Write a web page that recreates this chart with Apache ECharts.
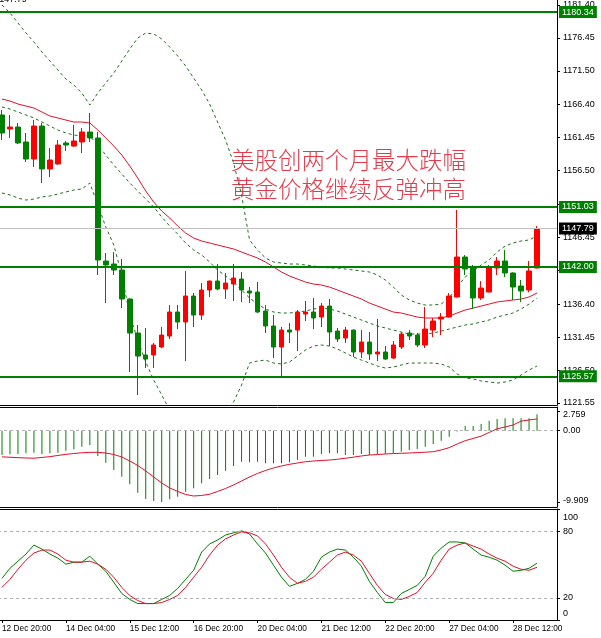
<!DOCTYPE html>
<html><head><meta charset="utf-8">
<script src="https://cdn.jsdelivr.net/npm/echarts@6/dist/echarts.min.js"></script>
<style>html,body{margin:0;padding:0;background:#fff;overflow:hidden;width:601px;height:638px;position:relative}#c{position:absolute;left:-2px;top:-1px;width:603px;height:639px;}</style>
</head><body><div id="c"></div><script>
// ---------- data ----------
const timeLabels = ['12 Dec 20:00','14 Dec 04:00','15 Dec 12:00','16 Dec 20:00','20 Dec 04:00','21 Dec 12:00','22 Dec 20:00','27 Dec 04:00','28 Dec 12:00'];
const barsPerLabel = 8;
const emptySlots = 2;

// [open, close, low, high]
const ohlc = [
[1164.86,1162.15,1161.10,1165.61],[1162.75,1163.05,1161.40,1164.86],[1163.05,1160.65,1160.50,1163.65],[1160.80,1158.24,1157.79,1162.15],
[1158.24,1163.20,1157.04,1164.10],[1163.20,1156.74,1154.63,1163.65],[1156.74,1158.09,1155.53,1159.89],[1157.49,1160.34,1157.40,1161.10],
[1160.65,1160.34,1159.44,1160.95],[1160.19,1160.95,1160.04,1163.35],[1160.80,1162.30,1159.14,1162.90],[1162.30,1161.40,1160.80,1165.16],
[1161.40,1143.05,1140.80,1162.30],[1142.90,1142.30,1136.58,1144.10],[1142.45,1141.55,1140.80,1144.25],[1141.55,1137.19,1135.83,1143.20],
[1137.19,1132.07,1126.21,1137.30],[1132.07,1128.61,1122.75,1133.28],[1128.77,1128.16,1126.81,1132.83],[1128.77,1130.27,1126.81,1130.57],
[1129.97,1131.77,1129.82,1132.98],[1131.62,1135.23,1131.17,1136.28],[1135.23,1133.73,1132.67,1136.28],[1133.73,1137.64,1127.86,1141.40],
[1137.64,1134.78,1132.98,1138.09],[1134.78,1138.54,1134.03,1139.59],[1138.54,1139.89,1137.49,1139.95],[1139.89,1138.69,1138.54,1142.45],
[1138.69,1139.59,1137.19,1141.10],[1139.44,1140.34,1136.89,1142.45],[1140.19,1138.54,1136.74,1141.25],[1138.39,1138.09,1136.58,1138.99],
[1138.24,1135.23,1135.08,1139.74],[1135.38,1133.13,1132.07,1136.28],[1133.13,1129.97,1128.31,1134.78],[1129.97,1132.52,1125.46,1132.98],
[1132.52,1132.22,1130.57,1133.58],[1132.52,1135.23,1129.37,1135.53],[1134.93,1135.23,1133.88,1136.89],[1135.23,1134.33,1132.67,1137.34],
[1134.48,1136.13,1132.98,1136.58],[1136.13,1132.22,1130.12,1137.19],[1132.37,1131.17,1130.72,1132.83],[1131.32,1132.52,1130.57,1132.98],
[1132.52,1129.22,1128.46,1132.60],[1129.22,1130.72,1128.31,1132.52],[1130.72,1128.92,1128.01,1132.22],[1128.92,1129.22,1127.86,1134.18],
[1129.22,1128.16,1128.01,1130.12],[1128.31,1130.27,1128.16,1130.87],[1129.97,1131.92,1129.67,1132.22],[1132.07,1131.62,1131.02,1132.52],
[1131.77,1130.27,1129.97,1132.07],[1130.27,1132.67,1129.82,1135.98],[1132.52,1133.88,1131.47,1134.33],[1134.18,1134.48,1131.77,1135.08],
[1134.48,1137.64,1134.40,1138.09],[1137.49,1143.50,1137.40,1150.57],[1143.50,1141.70,1140.80,1143.80],[1142.00,1137.34,1135.68,1142.30],
[1137.34,1138.84,1137.04,1139.89],[1138.24,1142.00,1138.20,1142.30],[1141.85,1142.90,1140.80,1143.50],[1142.90,1141.10,1140.49,1144.55],
[1141.10,1138.99,1137.04,1141.20],[1139.14,1138.39,1136.74,1140.04],[1138.54,1141.40,1138.20,1142.90],[1141.85,1147.79,1141.80,1148.16]
];

const maRed = [1167.26,1166.96,1166.51,1166.21,1165.91,1165.31,1164.71,1164.41,1164.10,1163.80,
1163.80,1163.65,1162.60,1161.40,1160.19,1158.84,1157.19,1155.38,1153.43,1151.77,
1150.42,1149.37,1148.16,1147.11,1146.36,1145.91,1145.61,1145.31,1145.01,1144.71,
1144.25,1143.80,1143.35,1142.75,1142.00,1141.25,1140.65,1140.19,1139.74,1139.44,
1139.29,1138.99,1138.54,1138.09,1137.64,1137.19,1136.58,1136.13,1135.68,1135.23,
1135.08,1134.78,1134.48,1134.33,1134.33,1134.33,1134.63,1135.08,1135.53,1135.83,
1136.13,1136.43,1136.74,1136.89,1137.04,1137.19,1137.49,1138.09];

const bbUpper = [1181.40,1180.20,1178.69,1177.19,1175.83,1174.33,1172.98,1171.62,1170.27,1169.37,
1168.16,1166.36,1168.16,1169.67,1171.17,1172.98,1174.78,1176.44,1177.19,1177.04,
1176.29,1175.08,1173.73,1172.22,1170.42,1168.62,1166.51,1163.80,1161.10,1157.64,
1152.83,1146.06,1144.55,1143.35,1142.75,1142.60,1142.45,1142.45,1142.30,1142.15,
1142.00,1141.85,1141.85,1141.70,1141.55,1141.40,1141.25,1140.80,1140.04,1138.99,
1137.79,1137.04,1136.58,1136.28,1136.28,1136.43,1137.34,1138.99,1140.49,1141.40,
1142.30,1143.05,1144.25,1145.16,1145.61,1145.91,1146.06,1146.66];

const bbMiddle = [1166.06,1165.76,1165.31,1164.86,1164.41,1163.80,1163.20,1162.60,1162.15,1161.85,
1161.70,1161.70,1160.34,1158.84,1157.34,1155.98,1154.63,1153.43,1152.22,1151.02,
1149.52,1148.16,1146.96,1145.61,1144.55,1143.80,1142.75,1141.55,1140.65,1139.74,
1138.54,1137.34,1136.43,1135.68,1135.23,1135.08,1135.08,1135.23,1135.38,1135.68,
1135.83,1135.68,1135.38,1134.93,1134.48,1134.03,1133.58,1133.13,1132.83,1132.52,
1132.22,1131.92,1131.92,1131.92,1132.07,1132.37,1132.67,1132.98,1133.28,1133.43,
1133.73,1134.03,1134.48,1134.78,1135.08,1135.68,1136.43,1137.34];

const bbLower = [1153.13,1152.83,1152.37,1152.07,1152.22,1152.53,1152.68,1152.98,1153.28,1153.58,
1153.73,1154.63,1151.32,1148.01,1145.31,1140.80,1134.78,1131.02,1127.71,1125.01,
1122.75,1120.49,1118.99,1118.24,1117.79,1117.79,1118.24,1118.99,1120.19,1121.70,
1124.25,1127.56,1127.86,1128.01,1127.56,1127.41,1127.71,1128.61,1129.52,1130.12,
1130.27,1130.12,1129.67,1129.07,1128.46,1128.01,1127.56,1127.11,1126.81,1126.96,
1127.26,1127.56,1127.56,1127.56,1127.56,1127.41,1126.96,1125.91,1125.31,1125.16,
1124.86,1124.71,1124.55,1124.71,1125.01,1125.76,1126.51,1127.11];

const macdHist = [-3.38,-3.28,-3.24,-3.14,-3.06,-3.24,-3.14,-3.06,-2.78,-2.58,
-2.22,-1.99,-3.51,-4.44,-5.46,-6.39,-7.44,-8.61,-9.49,-9.76,
-9.909,-9.53,-9.17,-8.47,-8.00,-7.31,-6.71,-6.15,-5.56,-4.90,
-4.31,-4.39,-4.31,-4.53,-4.53,-4.53,-4.39,-4.07,-3.61,-3.61,
-3.24,-3.14,-3.14,-3.38,-3.38,-3.24,-3.38,-3.24,-3.24,-3.14,
-2.92,-2.68,-2.54,-2.22,-1.85,-1.39,-0.83,-0.10,0.65,0.65,
0.93,1.39,1.63,1.72,1.72,1.72,1.72,2.28];

const macdSignal = [-3.63,-3.69,-3.75,-3.79,-3.82,-3.72,-3.61,-3.44,-3.29,-3.17,
-3.07,-3.01,-3.00,-3.10,-3.31,-3.65,-4.21,-4.83,-5.60,-6.43,
-7.26,-7.96,-8.44,-8.86,-9.07,-9.00,-8.83,-8.44,-8.03,-7.54,
-6.99,-6.43,-5.94,-5.53,-5.18,-4.90,-4.67,-4.49,-4.32,-4.21,
-4.14,-4.08,-3.97,-3.83,-3.68,-3.51,-3.38,-3.31,-3.24,-3.18,
-3.14,-3.10,-3.04,-2.99,-2.92,-2.68,-2.36,-1.85,-1.39,-1.08,
-0.76,-0.25,0.26,0.51,0.79,1.32,1.49,1.63];

const stochK = [37.5,46.6,53,59.4,67.5,63.9,59.4,55.7,50.3,52.1,
52.1,57.5,50.3,43.9,33.9,23.9,18.5,14.8,14.8,14.8,
18.5,22.1,28.5,36.6,44.8,61.2,68.5,72.1,76.6,78.5,
80.3,77.5,68.5,60.3,49.4,38.5,30.3,33,36.6,43.9,
56.6,61.2,63.9,63,56.6,48.5,34.8,24.8,15.7,15.7,
23.9,27.5,31.2,39.4,57.5,64.8,70.3,70.3,69.4,63.9,
58.5,56.6,53.9,49.4,43.9,44.8,46.6,51.2];

const stochD = [29.4,36.6,45.7,53.9,60.3,63,63,59.4,53.9,52.1,
52.1,53,50.3,45.7,38.5,29.4,22.1,17.5,14.8,14.8,
15.7,18.5,22.1,29.4,38.5,47.5,58.5,67.5,73,76.6,
79.4,78.5,75.7,68.5,58.5,47.5,38.5,33,34.8,38.5,
45.7,52.1,58.5,61.2,58.5,53,42.1,31.2,23,19.4,
18.5,21.2,24.8,33.9,42.1,53.9,63.9,67.5,69.4,66.6,
63.9,59.4,55.7,53,48.5,45.7,44.8,47.5];

const levelLines = [1180.34, 1151.03, 1142.00, 1125.57];
const lastPrice = 1147.79;
const priceTicks = [1121.55,1126.50,1131.45,1136.40,1141.50,1146.45,1151.45,1156.50,1161.45,1166.40,1171.50,1176.45,1181.40];
const macdTicks = [-9.909, 0, 2.759];
const stochTicks = [0, 20, 80, 100];
const stochLevels = [20, 80];
const headline = ['美股创两个月最大跌幅', '黄金价格继续反弹冲高'];

// ---------- chart ----------
const cats = Array.from({length: ohlc.length + emptySlots}, (_, i) => String(i));
const FONT = 'Liberation Sans, Arial, sans-serif';
const GREEN = '#008000';
const chart = echarts.init(document.getElementById('c'), null, {renderer: 'canvas'});

function xAx(gi, showLabels, pos) {
  return {
    type: 'category', gridIndex: gi, data: cats, boundaryGap: true, position: pos || 'bottom',
    axisLine: {show: true, onZero: false, lineStyle: {color: '#000', width: 1}},
    axisTick: {show: showLabels, alignWithLabel: true, length: 3,
      interval: (i) => i % barsPerLabel === 0, lineStyle: {color: '#000'}},
    axisLabel: {show: showLabels, interval: 0, align: 'left', margin: 5,
      fontFamily: FONT, fontSize: 8.3, color: '#000',
      formatter: (v, i) => (i % barsPerLabel === 0 && timeLabels[i / barsPerLabel]) ? timeLabels[i / barsPerLabel] : ''},
    splitLine: {show: false}
  };
}
function yAx(gi, min, max, ticks, fmt, rich) {
  return {
    type: 'value', gridIndex: gi, position: 'right', min, max, scale: true,
    axisLine: {show: true, onZero: false, lineStyle: {color: '#000', width: 1}}, splitLine: {show: false},
    axisTick: {show: true, length: 3, customValues: ticks, lineStyle: {color: '#000'}},
    axisLabel: {customValues: ticks, formatter: fmt, margin: 6, fontFamily: FONT, fontSize: 9, color: '#000', rich: rich}
  };
}
const lbl = (pad) => ({padding: pad, fontSize: 9, fontFamily: FONT, color: '#000'});

const levelData = levelLines.map(v => ({
  yAxis: v,
  lineStyle: {color: GREEN, width: 2, type: 'solid'},
  label: {backgroundColor: GREEN}
}));
levelData.push({
  yAxis: lastPrice,
  lineStyle: {color: '#c0c0c0', width: 1, type: 'solid'},
  label: {backgroundColor: '#000'}
});

const dashed = (name, data) => ({
  name, type: 'line', xAxisIndex: 0, yAxisIndex: 0, data, symbol: 'none', silent: true,
  lineStyle: {color: '#1e6e1e', width: 1, type: [3, 3]}, z: 1
});

const option = {
  animation: false,
  backgroundColor: '#fff',
  grid: [
    {left: 0, right: 44, top: 0, height: 406},
    {left: 0, right: 44, top: 408, height: 100},
    {left: 0, right: 44, top: 510, height: 111}
  ],
  xAxis: [xAx(0, false), xAx(1, false), xAx(2, true), xAx(1, false, 'top'), xAx(2, false, 'top')],
  yAxis: [
    yAx(0, 1121.25, 1182.30, priceTicks, v => v.toFixed(2)),
    yAx(1, -10.60, 3.29, macdTicks, v => v === 0 ? '0.00' : (v > 0 ? '{t|' + v.toFixed(3) + '}' : '{b|' + v.toFixed(3) + '}'),
      {t: lbl([7, 0, 0, 0]), b: lbl([0, 0, 4, 0])}),
    yAx(2, 0, 100, stochTicks, v => v === 100 ? '{t|100}' : (v === 0 ? '{b|0}' : String(v)),
      {t: lbl([17, 0, 0, 0]), b: lbl([0, 0, 12, 0])})
  ],
  graphic: [
    {type: 'text', left: 233, top: 149, style: {text: headline[0], fill: '#e63a4a', fontSize: 23.5, fontWeight: 300, fontFamily: 'Noto Sans CJK SC'}},
    {type: 'text', left: 233, top: 178, style: {text: headline[1], fill: '#e63a4a', fontSize: 23.5, fontWeight: 300, fontFamily: 'Noto Sans CJK SC'}},
    {type: 'text', left: -3, top: -4, style: {text: lastPrice.toFixed(2), fill: '#000', fontSize: 9, fontFamily: FONT}}
  ],
  series: [
    dashed('bbUpper', bbUpper),
    dashed('bbMiddle', bbMiddle),
    dashed('bbLower', bbLower),
    {name: 'ma', type: 'line', xAxisIndex: 0, yAxisIndex: 0, data: maRed, symbol: 'none', silent: true,
      lineStyle: {color: '#e0102a', width: 1}, z: 1},
    {name: 'price', type: 'candlestick', xAxisIndex: 0, yAxisIndex: 0, data: ohlc, barWidth: 5, z: 3,
      itemStyle: {color: '#ff0000', color0: GREEN, borderColor: '#ff0000', borderColor0: GREEN, borderWidth: 1},
      markLine: {silent: true, symbol: 'none', animation: false,
        label: {show: true, position: 'end', distance: 2, formatter: p => p.value.toFixed(2),
          color: '#fff', fontFamily: FONT, fontSize: 9, padding: [2, 3, 1, 3]},
        data: levelData}},
    {name: 'macd', type: 'bar', xAxisIndex: 1, yAxisIndex: 1, data: macdHist, barWidth: 1, silent: true,
      itemStyle: {color: GREEN},
      markLine: {silent: true, symbol: 'none', label: {show: false},
        lineStyle: {color: '#b0b0b0', width: 1, type: [3, 3]}, data: [{yAxis: 0}]}},
    {name: 'signal', type: 'line', xAxisIndex: 1, yAxisIndex: 1, data: macdSignal, symbol: 'none', silent: true,
      lineStyle: {color: '#e0102a', width: 1}},
    {name: 'stochK', type: 'line', xAxisIndex: 2, yAxisIndex: 2, data: stochK, symbol: 'none', silent: true,
      lineStyle: {color: GREEN, width: 1},
      markLine: {silent: true, symbol: 'none', label: {show: false},
        lineStyle: {color: '#b0b0b0', width: 1, type: [3, 3]}, data: stochLevels.map(v => ({yAxis: v}))}},
    {name: 'stochD', type: 'line', xAxisIndex: 2, yAxisIndex: 2, data: stochD, symbol: 'none', silent: true,
      lineStyle: {color: '#e0102a', width: 1}}
  ]
};
chart.setOption(option);
</script></body></html>
